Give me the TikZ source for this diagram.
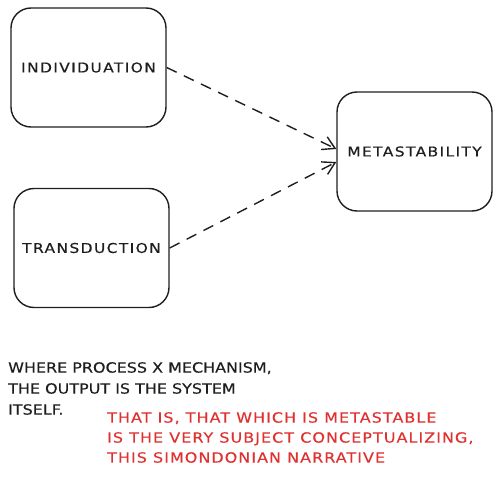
\documentclass[tikz,border=0pt]{standalone}
\usepackage{fontspec}
\setmainfont{DejaVu Sans}
\newfontfamily\boxfont[FakeStretch=1.15,LetterSpace=10,FakeBold=0.4]{DejaVu Sans}
\newfontfamily\blackfont[FakeStretch=1.14,FakeBold=0.4]{DejaVu Sans}
\newfontfamily\redfont[FakeStretch=1.14,LetterSpace=7.5,FakeBold=0.4]{DejaVu Sans}
\usetikzlibrary{arrows.meta}
\definecolor{exred}{HTML}{E03131}
\definecolor{exblack}{HTML}{1E1E1E}
\begin{document}
\begin{tikzpicture}[x=1pt,y=-1pt,
  box/.style={draw=exblack,line width=1.4pt,rounded corners=20pt,minimum width=155pt,minimum height=119pt,inner sep=0pt,font=\boxfont\fontsize{13.5}{15}\selectfont,text=exblack},
  conn/.style={draw=exblack,line width=1.4pt,dash pattern=on 11pt off 8pt,-{Straight Barb[length=12pt,width=14pt,line width=1.4pt]}},
  note/.style={anchor=north west,inner sep=0pt,align=left}
]
\useasboundingbox (0,0) rectangle (500,489);
\node[box] (ind) at (88.5,67.5) {INDIVIDUATION};
\node[box] (tra) at (91.5,248) {TRANSDUCTION};
\node[box] (met) at (414.5,151.5) {METASTABILITY};
\draw[conn] (ind.east) -- ([yshift=2.5pt]met.west);
\draw[conn] (tra.east) -- ([yshift=-10.5pt]met.west);
\node[note,text=exblack,font=\blackfont\fontsize{14}{21}\selectfont] (n1) at (8,362) {WHERE PROCESS X MECHANISM,\\THE OUTPUT IS THE SYSTEM\\ITSELF.};
\node[note,text=exred,font=\redfont\fontsize{14}{20}\selectfont] (n2) at (107,412) {THAT IS, THAT WHICH IS METASTABLE\\IS THE VERY SUBJECT CONCEPTUALIZING,\\THIS SIMONDONIAN NARRATIVE};
\end{tikzpicture}
\end{document}
